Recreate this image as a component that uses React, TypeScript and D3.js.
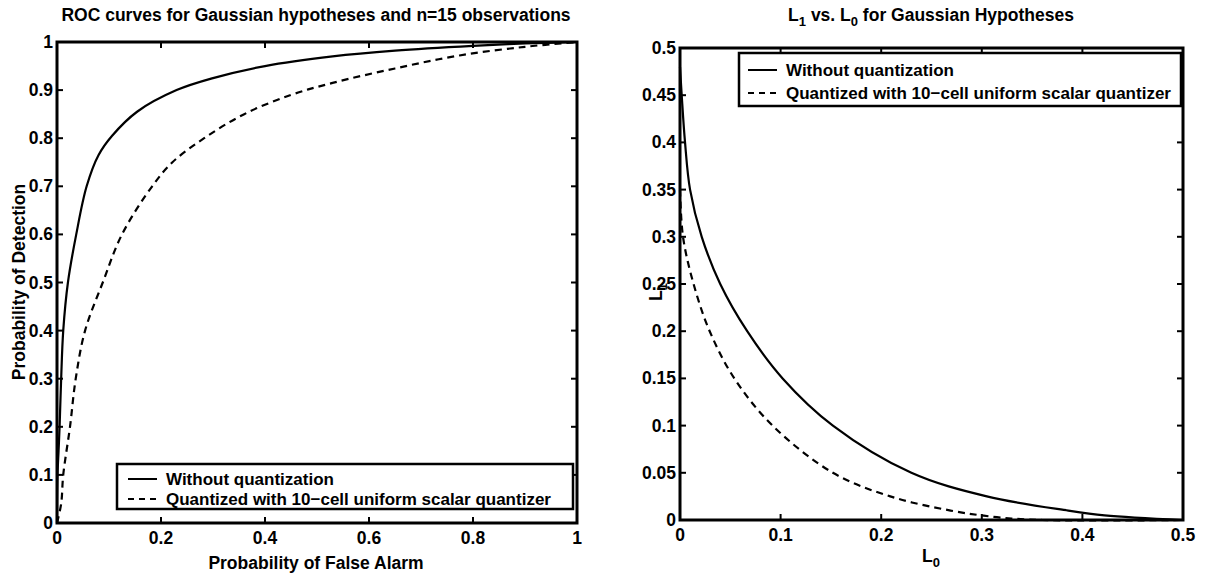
import React from "react";
import * as d3 from "d3";

// ---- Data ----
// Left: ROC curves (Pf, Pd)
const rocPf = [0, 0.001, 0.003, 0.005, 0.008, 0.012, 0.021, 0.037, 0.057, 0.08, 0.106, 0.154, 0.23, 0.3, 0.4, 0.53, 0.65, 0.8, 0.9, 1];
const rocPdNoQ = [0, 0.1, 0.15, 0.2, 0.3, 0.4, 0.5, 0.6, 0.7, 0.765, 0.805, 0.855, 0.9, 0.925, 0.95, 0.97, 0.982, 0.992, 0.997, 1];
const rocPfQ = [0, 0.008, 0.012, 0.025, 0.036, 0.054, 0.088, 0.125, 0.183, 0.222, 0.283, 0.36, 0.45, 0.53, 0.65, 0.774, 0.9, 1];
const rocPdQ = [0, 0.04, 0.1, 0.2, 0.3, 0.4, 0.5, 0.6, 0.7, 0.75, 0.8, 0.85, 0.89, 0.915, 0.945, 0.972, 0.99, 1];

// Right: L1 vs L0
const l0NoQ = [0, 0.0017, 0.005, 0.01, 0.0216, 0.04, 0.0668, 0.102, 0.152, 0.23, 0.305, 0.386, 0.422, 0.5];
const l1NoQ = [0.48, 0.45, 0.4, 0.35, 0.3, 0.25, 0.2, 0.15, 0.1, 0.05, 0.025, 0.01, 0.005, 0];
const l0Q = [0, 0.003, 0.0135, 0.0295, 0.054, 0.092, 0.152, 0.209, 0.269, 0.315, 0.36, 0.5];
const l1Q = [0.35, 0.3, 0.25, 0.2, 0.15, 0.1, 0.05, 0.025, 0.01, 0.003, 0, 0];

const leftXTicks = [0, 0.2, 0.4, 0.6, 0.8, 1];
const leftYTicks = [0, 0.1, 0.2, 0.3, 0.4, 0.5, 0.6, 0.7, 0.8, 0.9, 1];
const rightXTicks = [0, 0.1, 0.2, 0.3, 0.4, 0.5];
const rightYTicks = [0, 0.05, 0.1, 0.15, 0.2, 0.25, 0.3, 0.35, 0.4, 0.45, 0.5];

const legendLabels = ["Without quantization", "Quantized with 10\u2212cell uniform scalar quantizer"];

const FONT = "'Liberation Sans', Arial, Helvetica, sans-serif";
const FS = 17.5;
const LFS = 17;
const SUB = 13;

type Pt = [number, number];
const zip = (a: number[], b: number[]): Pt[] => a.map((v, i) => [v, b[i]]);

function Axes({ x, y, xTicks, yTicks, fmt }: any) {
  const [x0, x1] = x.range();
  const [y0, y1] = y.range(); // y0 bottom, y1 top
  const tl = 6;
  return (
    <g>
      {xTicks.map((t: number) => (
        <g key={"x" + t}>
          <line x1={x(t)} x2={x(t)} y1={y0} y2={y0 - tl} stroke="#000" strokeWidth={2} />
          <line x1={x(t)} x2={x(t)} y1={y1} y2={y1 + tl} stroke="#000" strokeWidth={2} />
          <text x={x(t)} y={y0 + 21} textAnchor="middle" fontFamily={FONT} fontWeight="bold" fontSize={FS}>{fmt(t)}</text>
        </g>
      ))}
      {yTicks.map((t: number) => (
        <g key={"y" + t}>
          <line x1={x0} x2={x0 + tl} y1={y(t)} y2={y(t)} stroke="#000" strokeWidth={2} />
          <line x1={x1} x2={x1 - tl} y1={y(t)} y2={y(t)} stroke="#000" strokeWidth={2} />
          <text x={x0 - 4} y={y(t) + 6} textAnchor="end" fontFamily={FONT} fontWeight="bold" fontSize={FS}>{fmt(t)}</text>
        </g>
      ))}
      <rect x={x0} y={y1} width={x1 - x0} height={y0 - y1} fill="none" stroke="#000" strokeWidth={3} />
    </g>
  );
}

function Legend({ bx, by, bw, bh, rows, sx0, sx1, tx }: any) {
  return (
    <g>
      <rect x={bx} y={by} width={bw} height={bh} fill="#fff" stroke="#000" strokeWidth={2.5} />
      {legendLabels.map((lab, i) => (
        <g key={lab}>
          <line x1={sx0} x2={sx1} y1={rows[i]} y2={rows[i]} stroke="#000" strokeWidth={2} strokeDasharray={i === 1 ? "6,5" : undefined} />
          <text x={tx} y={rows[i] + 6} fontFamily={FONT} fontWeight="bold" fontSize={LFS}>{lab}</text>
        </g>
      ))}
    </g>
  );
}

export default function App() {
  // Left plot
  const lx = d3.scaleLinear().domain([0, 1]).range([57, 577]);
  const ly = d3.scaleLinear().domain([0, 1]).range([523, 42]);
  // Right plot
  const rx = d3.scaleLinear().domain([0, 0.5]).range([680, 1183]);
  const ry = d3.scaleLinear().domain([0, 0.5]).range([520, 48]);

  const lineL = d3.line<Pt>().x((d) => lx(d[0])).y((d) => ly(d[1])).curve(d3.curveCatmullRom.alpha(0.5));
  const lineR = d3.line<Pt>().x((d) => rx(d[0])).y((d) => ry(d[1])).curve(d3.curveCatmullRom.alpha(0.5));

  const fmt = (t: number) => (t === 0 ? "0" : t === 1 ? "1" : String(+t.toFixed(2)));

  return (
    <svg width={1205} height={579} style={{ position: "absolute", left: 0, top: 0, background: "#fff" }}>
      <rect width={1205} height={579} fill="#fff" />
      {/* Left chart */}
      <text x={316} y={21} textAnchor="middle" fontFamily={FONT} fontWeight="bold" fontSize={FS}>ROC curves for Gaussian hypotheses and n=15 observations</text>
      <path d={lineL(zip(rocPf, rocPdNoQ)) || ""} fill="none" stroke="#000" strokeWidth={2.2} />
      <path d={lineL(zip(rocPfQ, rocPdQ)) || ""} fill="none" stroke="#000" strokeWidth={2.2} strokeDasharray="7,5" />
      <Axes x={lx} y={ly} xTicks={leftXTicks} yTicks={leftYTicks} fmt={fmt} />
      <text x={316} y={569} textAnchor="middle" fontFamily={FONT} fontWeight="bold" fontSize={FS}>Probability of False Alarm</text>
      <text transform="translate(25,282) rotate(-90)" textAnchor="middle" fontFamily={FONT} fontWeight="bold" fontSize={FS}>Probability of Detection</text>
      <Legend bx={117} by={464} bw={456} bh={45} rows={[479, 499]} sx0={128} sx1={157} tx={166} />

      {/* Right chart */}
      <text x={931} y={21} textAnchor="middle" fontFamily={FONT} fontWeight="bold" fontSize={FS}>
        L<tspan dy={5} fontSize={SUB}>1</tspan><tspan dy={-5}> vs. L</tspan><tspan dy={5} fontSize={SUB}>0</tspan><tspan dy={-5}> for Gaussian Hypotheses</tspan>
      </text>
      <path d={lineR(zip(l0NoQ, l1NoQ)) || ""} fill="none" stroke="#000" strokeWidth={2.2} />
      <path d={lineR(zip(l0Q, l1Q)) || ""} fill="none" stroke="#000" strokeWidth={2.2} strokeDasharray="7,5" />
      <Axes x={rx} y={ry} xTicks={rightXTicks} yTicks={rightYTicks} fmt={fmt} />
      <text x={931} y={562} textAnchor="middle" fontFamily={FONT} fontWeight="bold" fontSize={FS}>
        L<tspan dy={5} fontSize={SUB}>0</tspan>
      </text>
      <text transform="translate(662,292) rotate(-90)" textAnchor="middle" fontFamily={FONT} fontWeight="bold" fontSize={FS}>
        L<tspan dy={5} fontSize={SUB}>1</tspan>
      </text>
      <Legend bx={739} by={53} bw={442} bh={53} rows={[70, 93]} sx0={748} sx1={777} tx={786} />
    </svg>
  );
}
